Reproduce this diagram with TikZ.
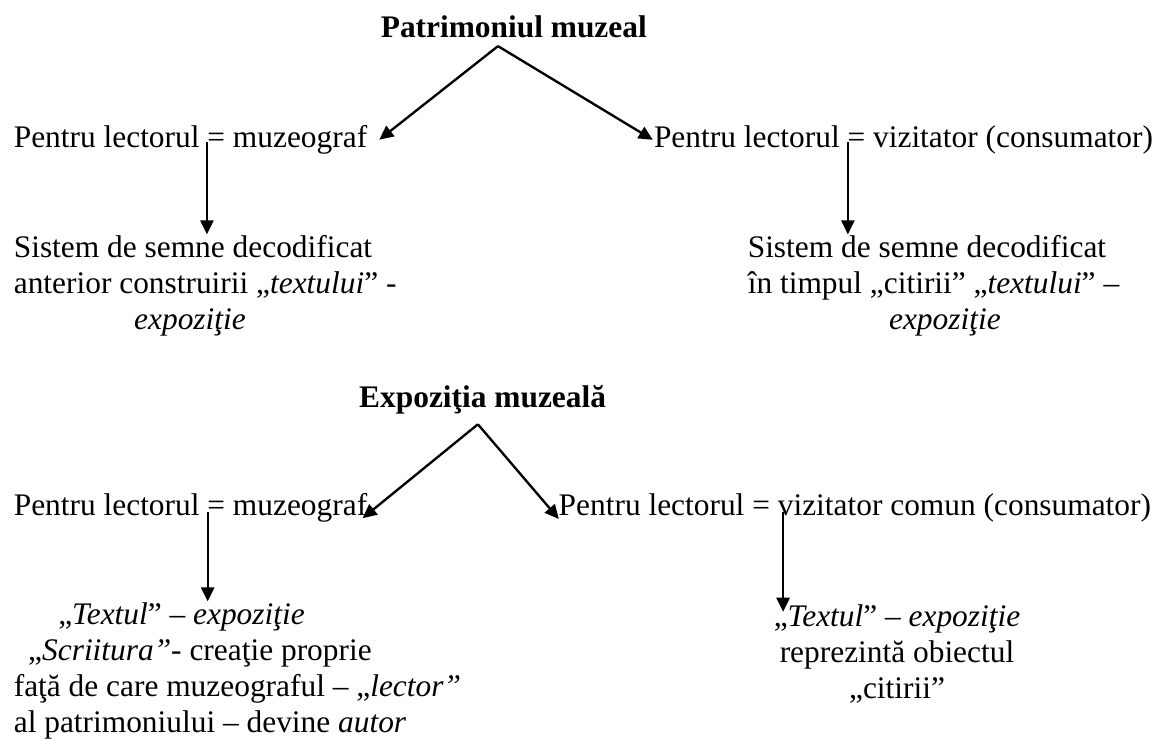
\documentclass[tikz,border=0pt]{standalone}
\usepackage{fontspec}
\setmainfont{Liberation Serif}
\usetikzlibrary{arrows.meta,calc}
\begin{document}
\begin{tikzpicture}[>={Triangle[length=5.4pt,width=5pt]}, line width=0.9pt,
    txt/.style={inner sep=0pt, font=\fontsize{12}{13.76}\selectfont},
    head/.style={inner sep=0pt, font=\fontsize{12}{13.76}\selectfont\bfseries}]
  \useasboundingbox (0, 0) rectangle (15.61, 9.94);

  % Patrimoniul muzeal
  \node[head, anchor=base west] (pat) at (5.10, 9.44) {Patrimoniul muzeal};
  \coordinate (pat-top) at (6.69, 9.32);
  \node[txt, anchor=base west] (muz1) at (0.17, 7.96) {Pentru lectorul = muzeograf};
  \node[txt, anchor=base west] (viz1) at (8.77, 7.96) {Pentru lectorul = vizitator (consumator)};
  \draw[->] (pat-top) -- ([xshift=4.2pt]muz1.east);
  \draw[->] (pat-top) -- (viz1.west);

  % base of a multi-line node = baseline of its last line
  \node[txt, anchor=base west, align=left] (sis1) at (0.17, 5.51)
    {Sistem de semne decodificat\\anterior construirii „\textit{textului}” -\\\hspace*{46pt}\textit{expoziţie}};
  \node[txt, anchor=base west, align=left] (sis2) at (10.03, 5.51)
    {Sistem de semne decodificat\\în timpul „citirii” „\textit{textului}” –\\\hspace*{54pt}\textit{expoziţie}};
  \coordinate (muz1-down) at (2.78, 8.03);
  \coordinate (viz1-down) at (11.39, 8.03);
  \draw[->] (muz1-down) -- (muz1-down |- sis1.north);
  \draw[->] (viz1-down) -- (viz1-down |- sis2.north);

  % Expozitia muzeala
  \node[head, anchor=base west] (exp) at (4.81, 4.46) {Expoziţia muzeală};
  \coordinate (exp-top) at (6.42, 4.24);
  \node[txt, anchor=base west] (muz2) at (0.17, 3.02) {Pentru lectorul = muzeograf};
  \node[txt, anchor=base west] (viz2) at (7.49, 3.02) {Pentru lectorul = vizitator comun (consumator)};
  \draw[->] (exp-top) -- ([xshift=-2.2pt, yshift=-1.2pt]muz2.base east);
  \draw[->] (exp-top) -- ([xshift=0.5pt, yshift=-1.5pt]viz2.base west);

  \node[txt, anchor=base west, align=left] (txt1) at (0.17, 0.10)
    {\hspace*{17pt}„\textit{Textul}” – \textit{expoziţie}\\\hspace*{5.5pt}„\textit{Scriitura”}- creaţie proprie\\faţă de care muzeograful – „\textit{lector”}\\al patrimoniului – devine \textit{autor}};
  \node[txt, anchor=base, align=center] (txt2) at (12.05, 0.55)
    {„\textit{Textul}” – \textit{expoziţie}\\reprezintă obiectul\\„citirii”};
  \coordinate (muz2-down) at (2.79, 3.06);
  \coordinate (viz2-down) at (10.52, 3.06);
  \draw[->] (muz2-down) -- (muz2-down |- txt1.north);
  \draw[->] (viz2-down) -- ($(viz2-down |- txt2.north)+(0, -3pt)$);
\end{tikzpicture}
\end{document}
